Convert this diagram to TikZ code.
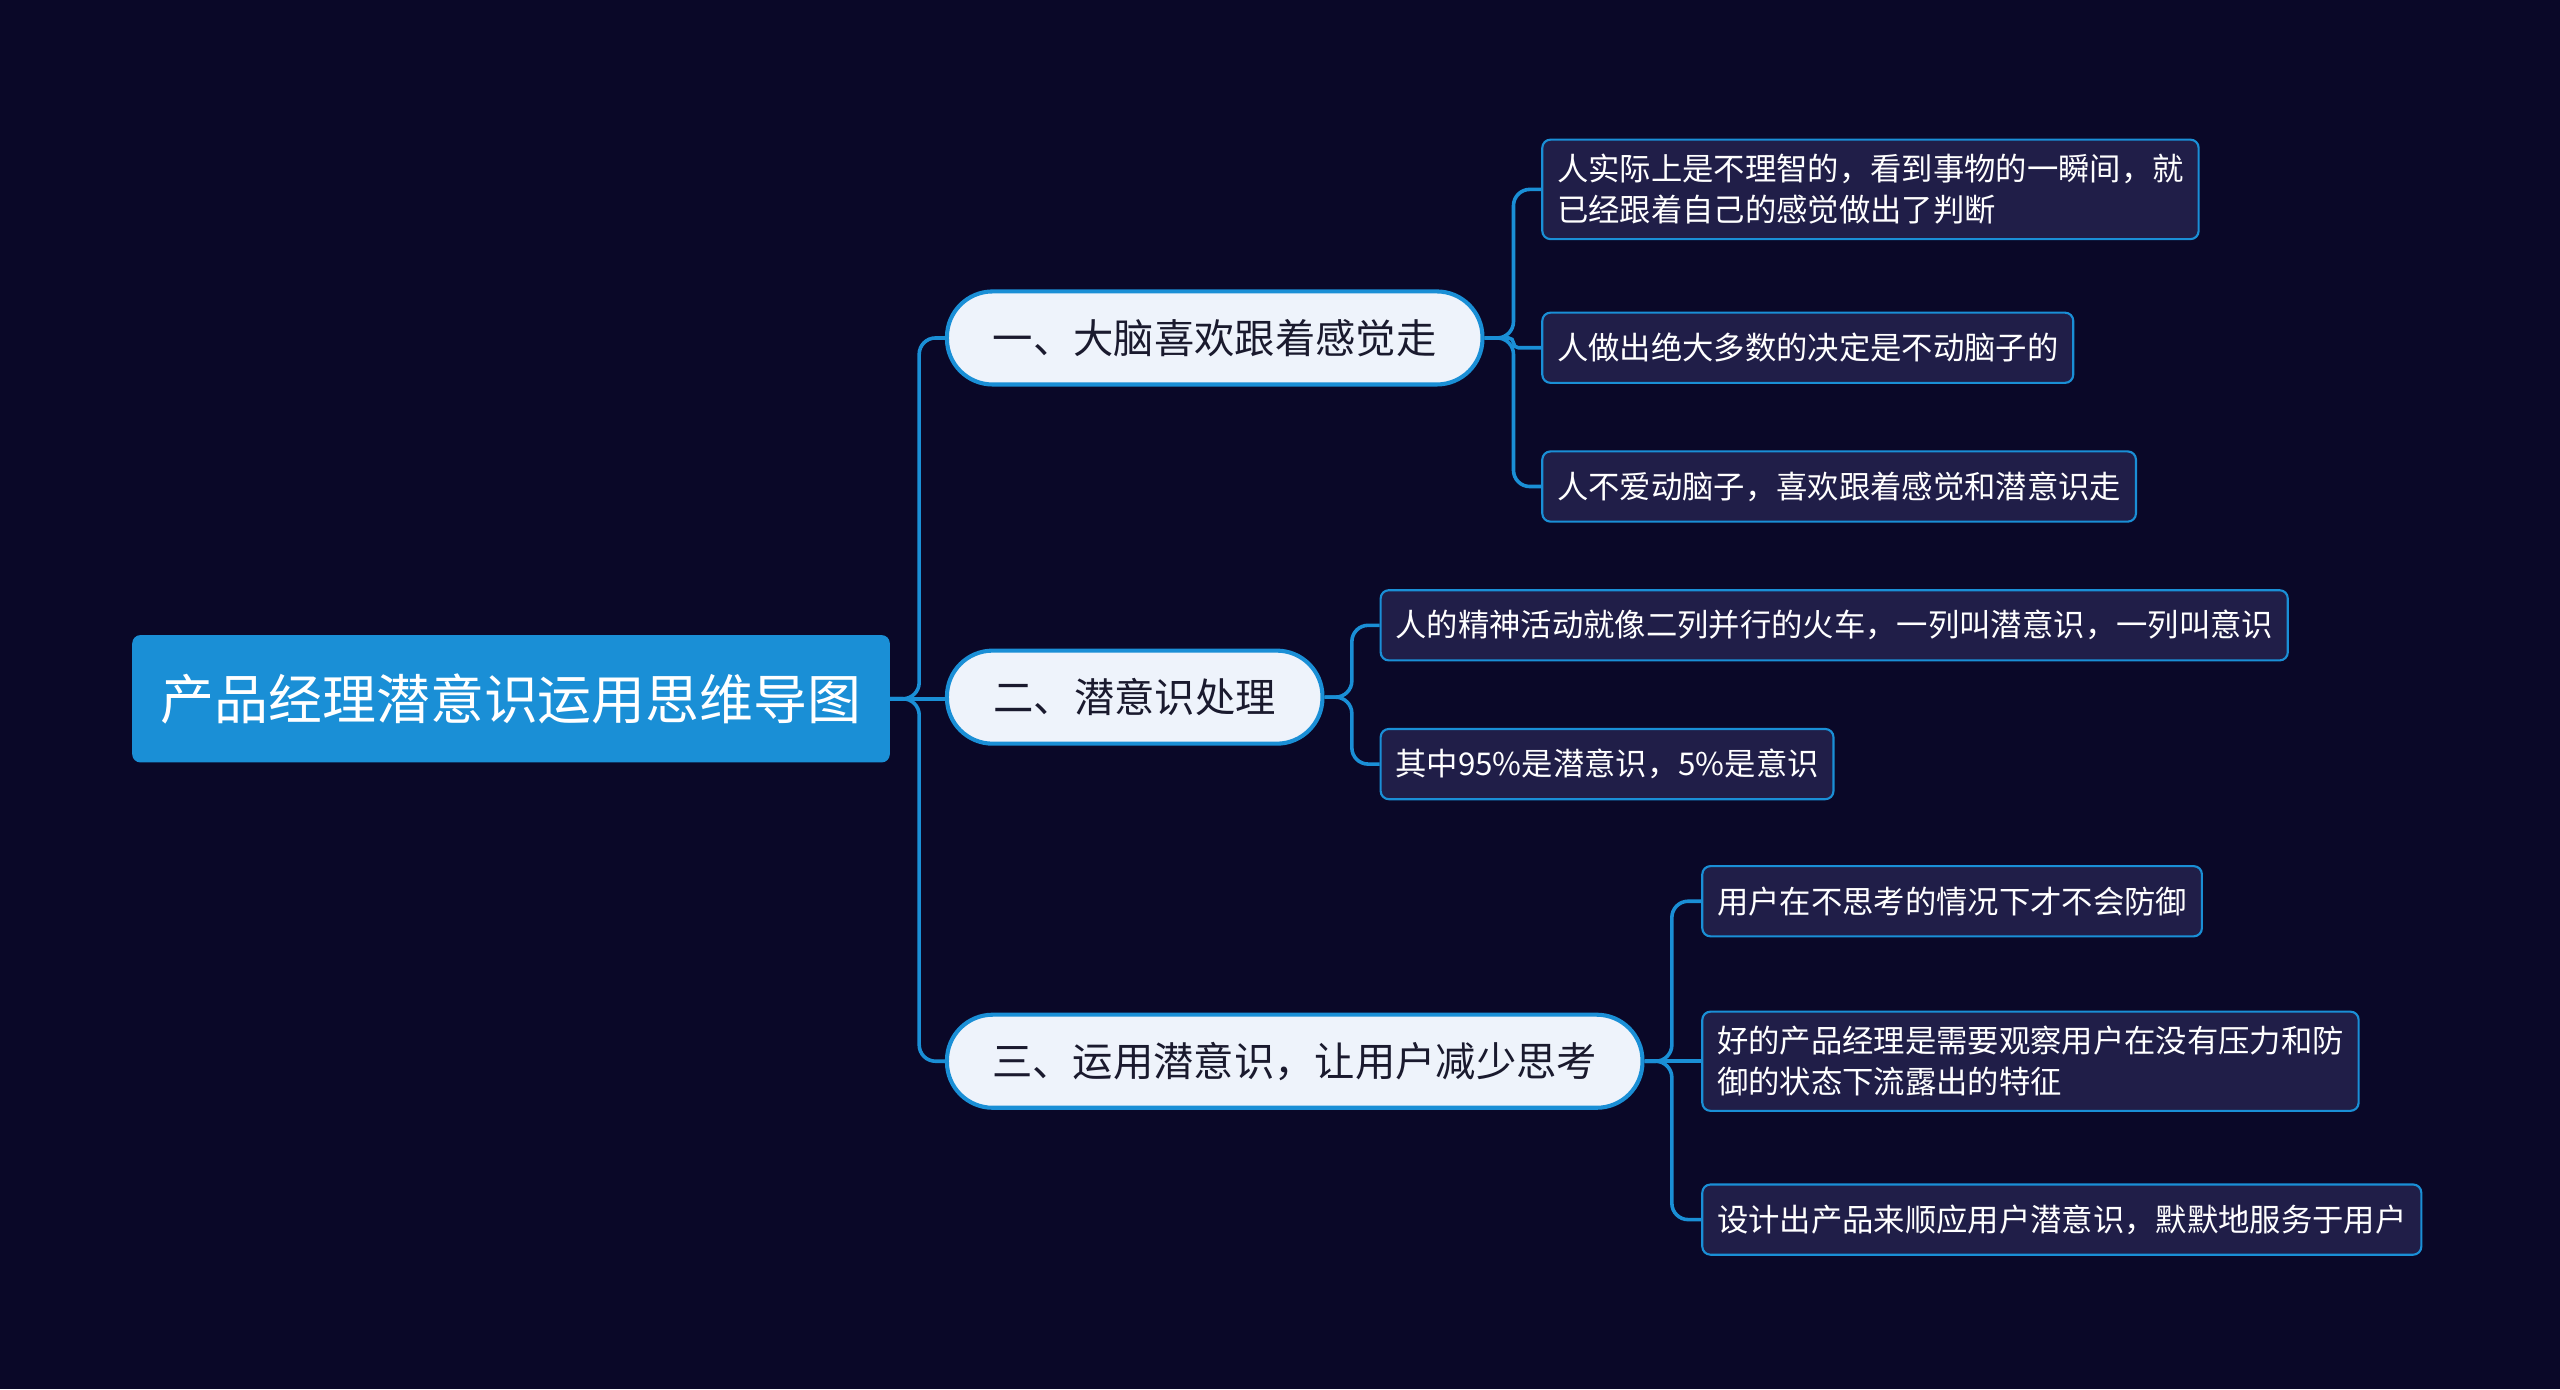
\documentclass[tikz,border=0pt]{standalone}
\usepackage{fontspec}
\setmainfont{Noto Sans CJK SC}
\begin{document}
\begin{tikzpicture}[x=1pt,y=-1pt,
 conn/.style={draw=c1,line width=2.2pt,rounded corners=10pt},
 rootbox/.style={fill=c1,rounded corners=5pt,text=white,font=\fontsize{33}{38}\selectfont,minimum width=464pt,minimum height=78pt,inner sep=0pt},
 lone/.style={fill=c2,draw=c1,line width=2.5pt,rounded corners=28pt,text=c3,font=\fontsize{24.7}{29}\selectfont,minimum height=57pt,inner sep=0pt},
 ltwo/.style={fill=c4,draw=c1,line width=1.3pt,rounded corners=5pt,text=white,font=\fontsize{19.2}{25}\selectfont,minimum height=43pt,inner xsep=9pt,inner ysep=9pt,align=left,anchor=west}]
\definecolor{bg}{HTML}{0A0828}
\definecolor{c1}{HTML}{1A8FD6}
\definecolor{c2}{HTML}{EEF3FB}
\definecolor{c3}{HTML}{1A1A2E}
\definecolor{c4}{HTML}{201E48}
\fill[bg] (0,0) rectangle (1568,851);
\useasboundingbox (0,0) rectangle (1568,851);
\node[rootbox] (root) at (313,428) {产品经理潜意识运用思维导图};
\node[lone,minimum width=328pt] (a) at (744,207) {一、大脑喜欢跟着感觉走};
\node[lone,minimum width=230pt] (b) at (695,427) {二、潜意识处理};
\node[lone,minimum width=426pt] (c) at (793,650) {三、运用潜意识，让用户减少思考};
\node[ltwo] (a1) at (944,116) {人实际上是不理智的，看到事物的一瞬间，就\\已经跟着自己的感觉做出了判断};
\node[ltwo] (a2) at (944,213) {人做出绝大多数的决定是不动脑子的};
\node[ltwo] (a3) at (944,298) {人不爱动脑子，喜欢跟着感觉和潜意识走};
\node[ltwo] (b1) at (845,383) {人的精神活动就像二列并行的火车，一列叫潜意识，一列叫意识};
\node[ltwo] (b2) at (845,468) {其中95\%是潜意识，5\%是意识};
\node[ltwo] (c1n) at (1042,552) {用户在不思考的情况下才不会防御};
\node[ltwo] (c2n) at (1042,650) {好的产品经理是需要观察用户在没有压力和防\\御的状态下流露出的特征};
\node[ltwo] (c3n) at (1042,747) {设计出产品来顺应用户潜意识，默默地服务于用户};
\coordinate (t0) at (563,428);
\coordinate (ta) at (927,207);
\coordinate (tb) at (828,427);
\coordinate (tc) at (1024,650);
\foreach \n in {a,c} \draw[conn] (root.east) -- (t0) |- (\n.west);
\draw[conn] (root.east) -- (root.east -| b.west);
\foreach \n in {a1,a3} \draw[conn] (a.east) -- (ta) |- (\n.west);
\draw[conn,rounded corners=3pt] (a.east) -- (ta) |- (a2.west);
\foreach \n in {b1,b2} \draw[conn] (b.east) -- (tb) |- (\n.west);
\foreach \n in {c1n,c3n} \draw[conn] (c.east) -- (tc) |- (\n.west);
\draw[conn] (c.east) -- (c2n.west);
\end{tikzpicture}
\end{document}
